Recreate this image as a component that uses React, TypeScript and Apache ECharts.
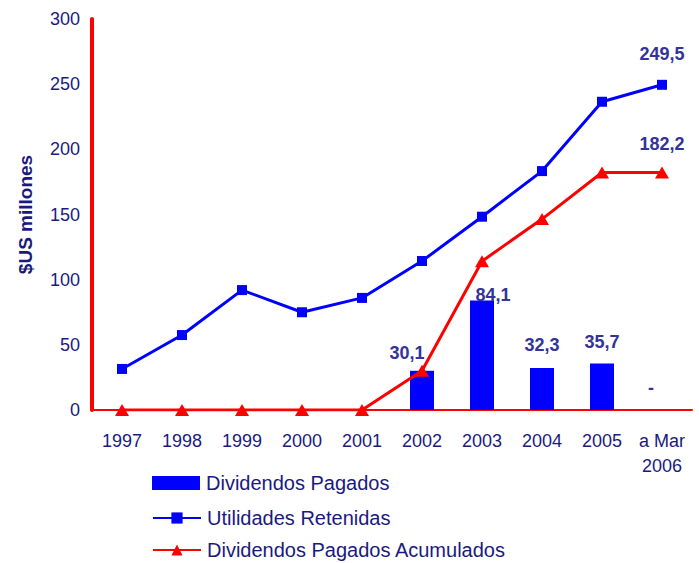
import React, { useEffect, useRef } from "react";
import * as echarts from "echarts";

const categories = ["1997", "1998", "1999", "2000", "2001", "2002", "2003", "2004", "2005", "a Mar\n2006"];
const dividendosPagados = [null, null, null, null, null, 30.1, 84.1, 32.3, 35.7, 0];
const utilidadesRetenidas = [31.5, 57.5, 92, 75, 86, 114.3, 148.3, 183.3, 236.5, 249.5];
const dividendosAcumulados = [0, 0, 0, 0, 0, 30.1, 114.2, 146.5, 182.2, 182.2];
const yTicks = [0, 50, 100, 150, 200, 250, 300];
const seriesNames = ["Dividendos Pagados", "Utilidades Retenidas", "Dividendos Pagados Acumulados"];

const barLabelOffsets: Record<number, number[]> = {
  5: [-15, -4],
  6: [11, 9],
  7: [0, -9],
  8: [0, -7],
  9: [-11, -8],
};

const fmt = (v: number) => (v === 0 ? "-" : v.toFixed(1).replace(".", ","));

export default function App() {
  const ref = useRef<HTMLDivElement>(null);
  useEffect(() => {
    document.body.style.margin = "0";
    const chart = echarts.init(ref.current!, undefined, { renderer: "svg" });
    const navy = "#1a1a7e";
    const labelNavy = "#333399";
    const font = "Liberation Sans, Arial, sans-serif";
    const last = categories.length - 1;
    const valLabel = (v: number, offset: number[]) => ({
      show: true,
      position: "top",
      offset,
      formatter: () => fmt(v),
      color: labelNavy,
      fontSize: 18,
      fontWeight: "bold",
      fontFamily: font,
    });
    const legendTops = [473, 508, 540];
    chart.setOption({
      animation: false,
      textStyle: { fontFamily: font },
      grid: { left: 92, top: 19, width: 600, height: 391 },
      legend: seriesNames.map((name, i) => ({
        orient: "vertical",
        left: 152,
        top: legendTops[i],
        padding: 0,
        itemWidth: 48,
        itemHeight: 14,
        textStyle: { color: navy, fontSize: 20, fontFamily: font, padding: [0, 0, 0, 1] },
        data: [i === 0 ? { name, icon: "rect" } : { name }],
      })),
      xAxis: {
        type: "category",
        data: categories,
        axisLine: { lineStyle: { color: "#ff0000", width: 2 } },
        axisTick: { show: false },
        axisLabel: { color: navy, fontSize: 18, margin: 18, lineHeight: 25, fontFamily: font },
      },
      yAxis: {
        type: "value",
        min: yTicks[0],
        max: yTicks[yTicks.length - 1],
        interval: 50,
        splitLine: { show: false },
        axisLine: { show: true, lineStyle: { color: "#ff0000", width: 4 } },
        axisTick: { show: false },
        axisLabel: { color: navy, fontSize: 18, margin: 12, fontFamily: font },
        name: "$US millones",
        nameLocation: "middle",
        nameGap: 57,
        nameRotate: 90,
        nameTextStyle: { color: navy, fontSize: 19, fontWeight: "bold", fontFamily: font },
      },
      series: [
        {
          name: seriesNames[0],
          type: "bar",
          barWidth: "40%",
          itemStyle: { color: "#0000ff" },
          z: 1,
          data: dividendosPagados.map((v, i) =>
            v === null ? null : { value: v, label: valLabel(v, barLabelOffsets[i] || [0, 0]) }
          ),
        },
        {
          name: seriesNames[1],
          type: "line",
          symbol: "rect",
          symbolSize: 10,
          lineStyle: { color: "#0000ff", width: 3 },
          itemStyle: { color: "#0000ff" },
          z: 3,
          data: utilidadesRetenidas.map((v, i) =>
            i === last ? { value: v, label: valLabel(v, [0, -12]) } : v
          ),
        },
        {
          name: seriesNames[2],
          type: "line",
          symbol: "triangle",
          symbolSize: [14, 12],
          lineStyle: { color: "#ff0000", width: 3 },
          itemStyle: { color: "#ff0000" },
          z: 4,
          data: dividendosAcumulados.map((v, i) =>
            i === last ? { value: v, label: valLabel(v, [0, -9]) } : v
          ),
        },
      ],
    });
    return () => chart.dispose();
  }, []);
  return <div ref={ref} style={{ width: 699, height: 563 }} />;
}
